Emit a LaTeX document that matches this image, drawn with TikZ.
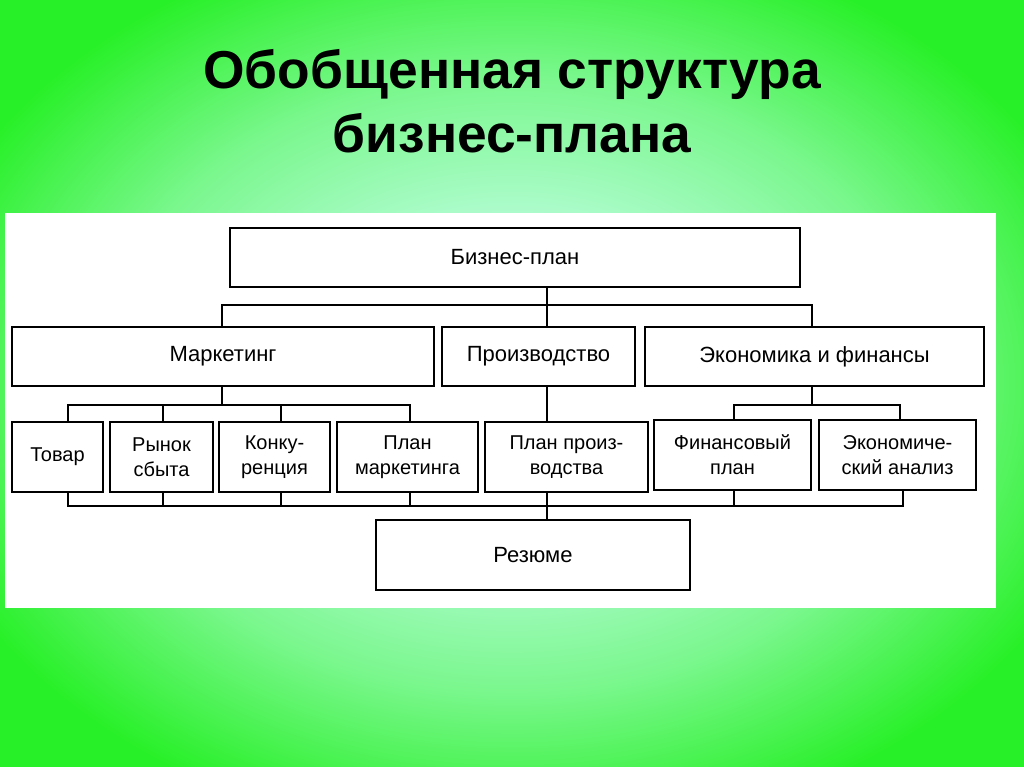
\documentclass[tikz,border=0pt]{standalone}
\usepackage{fontspec}
\setmainfont{Liberation Sans}
\definecolor{mint}{RGB}{190,253,225}
\definecolor{grn}{RGB}{40,240,40}
\pgfdeclareradialshading{bgshade}{\pgfpoint{0bp}{0bp}}{color(0bp)=(mint); color(8bp)=(mint); color(20bp)=(mint!55!grn); color(30bp)=(grn); color(50bp)=(grn)}
\begin{document}
\begin{tikzpicture}[x=0.75pt,y=-0.75pt,
  bx/.style={draw,line width=1.2pt,fill=white,inner sep=1pt,align=center,font=\fontsize{16.5}{19}\selectfont},
  sb/.style={bx,font=\fontsize{15}{18.5}\selectfont},
  ln/.style={line width=1.2pt}]
\useasboundingbox (0,0) rectangle (1024,767);
\shade[shading=bgshade] (0,0) rectangle (1024,767);
\fill[white] (5,213) rectangle (996,608);
\node[font=\bfseries\fontsize{40}{48}\selectfont,align=center] (title) at (512,101) {Обобщенная структура\\бизнес-плана};
\node[bx,minimum width=427.5pt,minimum height=44pt] (bp) at (515,257.5) {Бизнес-план};
\node[bx,minimum width=316.5pt,minimum height=44pt] (mk) at (223,356.5) {Маркетинг};
\node[bx,minimum width=144.75pt,minimum height=44pt] (pr) at (538.5,356.5) {Производство};
\node[bx,minimum width=254.25pt,minimum height=44pt] (ek) at (814.5,356.5) {Экономика и финансы};
\node[sb,minimum width=68pt,minimum height=52.5pt] (tv) at (57.5,457) {Товар};
\node[sb,minimum width=77pt,minimum height=52.5pt] (rs) at (161.5,457) {Рынок\\сбыта};
\node[sb,minimum width=83pt,minimum height=52.5pt] (kn) at (274.5,457) {Конку-\\ренция};
\node[sb,minimum width=105.5pt,minimum height=52.5pt] (pm) at (407.5,457) {План\\маркетинга};
\node[sb,minimum width=122pt,minimum height=52.5pt] (pp) at (566.5,457) {План произ-\\водства};
\node[sb,minimum width=117.5pt,minimum height=52.5pt] (fp) at (732.5,455) {Финансовый\\план};
\node[sb,minimum width=117.5pt,minimum height=52.5pt] (ea) at (897.5,455) {Экономиче-\\ский анализ};
\node[bx,minimum width=235.5pt,minimum height=52.5pt] (rz) at (533,555) {Резюме};
% top bus
\draw[ln] (bp.south -| 547,0) -- (547,305);
\draw[ln] (mk.north -| 222,0) |- (812,305) -- (ek.north -| 812,0);
\draw[ln] (547,305) -- (pr.north -| 547,0);
% marketing bus
\draw[ln] (mk.south -| 222,0) -- (222,405);
\draw[ln] (tv.north -| 68,0) |- (410,405) -- (pm.north -| 410,0);
\draw[ln] (163,405) -- (rs.north -| 163,0);
\draw[ln] (281,405) -- (kn.north -| 281,0);
% production
\draw[ln] (pr.south -| 547,0) -- (pp.north -| 547,0);
% econ bus
\draw[ln] (ek.south -| 812,0) -- (812,405);
\draw[ln] (fp.north -| 734,0) |- (900,405) -- (ea.north -| 900,0);
% bottom bus
\draw[ln] (tv.south -| 68,0) |- (903,506) -- (ea.south -| 903,0);
\draw[ln] (rs.south -| 163,0) -- (163,506);
\draw[ln] (kn.south -| 281,0) -- (281,506);
\draw[ln] (pm.south -| 410,0) -- (410,506);
\draw[ln] (pp.south -| 547,0) -- (547,506);
\draw[ln] (fp.south -| 734,0) -- (734,506);
\draw[ln] (547,506) -- (rz.north -| 547,0);
\end{tikzpicture}
\end{document}
